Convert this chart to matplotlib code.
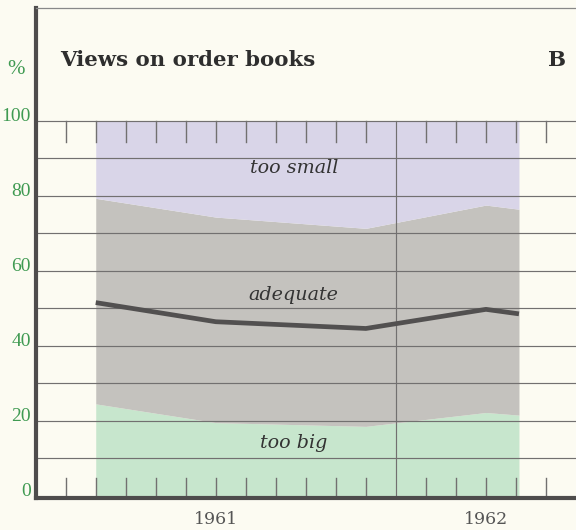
import matplotlib
matplotlib.use("Agg")
import matplotlib.pyplot as plt
import numpy as np

# ---- data (x in tick units; ticks roughly every 1/9 year) ----
survey_x = [1, 5, 10, 14, 15.1]
too_big = [24.5, 19.5, 18.5, 22.2, 21.5]
adequate = [54.8, 54.8, 52.8, 55.3, 54.9]
balance_line = [51.5, 46.4, 44.6, 49.7, 48.5]
y_ticks = [0, 20, 40, 60, 80, 100]
y_labels = ["0", "20", "40", "60", "80", "100"]
year_pos = [5, 14]
year_labels = ["1961", "1962"]
tick_pos = [i for i in range(0, 17) if i != 11]
year_line = 11

W, H = 576, 530
BG = "#fcfbf2"
GREEN_TXT = "#3f9a52"
DARK = "#4e4c4c"

fig = plt.figure(figsize=(W / 100, H / 100), dpi=100, facecolor=BG)
ax = fig.add_axes([36 / W, (H - 498) / H, (W - 36) / W, (498 - 8) / H])
ax.set_facecolor(BG)
ax.set_xlim(-0.99, 17.0)
ax.set_ylim(-0.6, 130.05)

x = np.array(survey_x)
tb = np.array(too_big)
top_adq = tb + np.array(adequate)

ax.fill_between(x, 0, tb, color="#c7e6cd", lw=0, zorder=1)
ax.fill_between(x, tb, top_adq, color="#c4c2be", lw=0, zorder=1)
ax.fill_between(x, top_adq, 100, color="#d9d5e8", lw=0, zorder=1)

# horizontal grid
for v in range(10, 101, 10):
    ax.axhline(v, color="#727070", lw=0.85, zorder=2)

# ticks at top and bottom
for t in tick_pos:
    ax.plot([t, t], [0, 4.7], color="#727070", lw=1.0, zorder=2)
    ax.plot([t, t], [94.4, 100], color="#727070", lw=1.0, zorder=2)
ax.plot([year_line, year_line], [0, 100], color="#727070", lw=0.85, zorder=2)

ax.plot(x, balance_line, color="#525050", lw=3.4, solid_capstyle="butt",
        solid_joinstyle="round", zorder=3)

serif = ["DejaVu Serif"]
for xx, yy, lab in [(7.62, 87.3, "too small"), (7.6, 53.5, "adequate"),
                    (7.6, 14.1, "too big")]:
    ax.text(xx, yy, lab, family=serif, style="italic", fontsize=13.8,
            color="#333333", ha="center", va="center", zorder=4)

# spines
ax.spines["right"].set_visible(False)
ax.spines["left"].set_color(DARK)
ax.spines["left"].set_linewidth(3.0)
ax.spines["bottom"].set_color(DARK)
ax.spines["bottom"].set_linewidth(3.0)
ax.spines["top"].set_color("#888888")
ax.spines["top"].set_linewidth(0.9)
ax.set_xticks([])
ax.set_yticks([])

# y labels
for v, lab in zip(y_ticks, y_labels):
    ypix = 495.7 - 3.75 * v - 4
    fig.text(31 / W, 1 - ypix / H, lab, family=["Liberation Serif"], fontsize=14,
             color=GREEN_TXT, ha="right", va="center")
fig.text(16 / W, 1 - 70 / H, "%", family=["Liberation Serif"], fontsize=15,
         color=GREEN_TXT, ha="center", va="center")

# year labels
for p, lab in zip(year_pos, year_labels):
    xpix = 65.7 + 30.02 * p
    fig.text(xpix / W, 1 - 519 / H, lab, family=serif, fontsize=12.5,
             color="#555555", ha="center", va="center")

fig.text(60 / W, 1 - 60 / H, "Views on order books", family=serif,
         fontweight="bold", fontsize=15.3, color="#2e2e2e", ha="left", va="center")
fig.text(557 / W, 1 - 60 / H, "B", family=serif, fontweight="bold",
         fontsize=15.3, color="#2e2e2e", ha="center", va="center")

fig.savefig("out.png", dpi=100, facecolor=BG)
